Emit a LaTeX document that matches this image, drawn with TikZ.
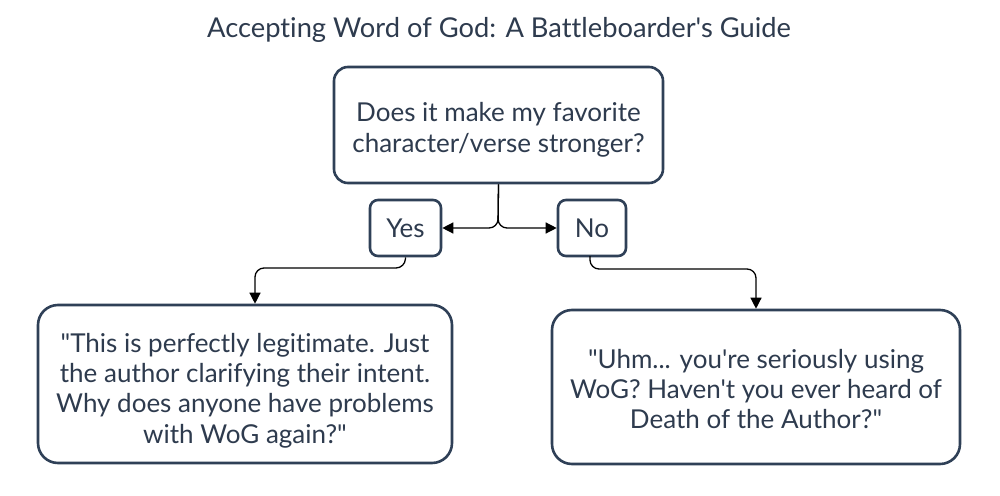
\documentclass[tikz,border=0pt]{standalone}
\usepackage{fontspec}
\setmainfont{Lato}[Ligatures={TeXOff,NoCommon}]
\usetikzlibrary{arrows.meta}
\definecolor{boxc}{HTML}{2F4057}
\definecolor{txtc}{HTML}{2E3B4E}
\newcommand\firstup[1]{\rule{0pt}{#1}}
\tikzset{
  box/.style={draw=boxc, line width=2.6pt, rounded corners=14pt, fill=white, text=txtc, align=center, inner sep=0pt},
  conn/.style={draw=black, line width=1.3pt, rounded corners=9pt, -{Triangle[length=11pt,width=11pt]}},
  bodyfont/.style={font={\fontsize{26}{30.3}\selectfont\lineskiplimit=-20pt}},
}
\begin{document}
\begin{tikzpicture}[x=1pt,y=-1pt]
\useasboundingbox[fill=white] (0,0) rectangle (1000,495);
\node[text=txtc, font=\fontsize{27.3}{30}\selectfont] (title) at (499,30) {Accepting Word of God: A Battleboarder's Guide};
\node[box, bodyfont, minimum width=329pt, minimum height=116pt] (top) at (498.5,125) {\firstup{29pt}Does it make my favorite\\character/verse stronger?};
\node[box, bodyfont, rounded corners=8pt, minimum width=71pt, minimum height=56pt] (yes) at (405.5,228) {Yes};
\node[box, bodyfont, rounded corners=8pt, minimum width=68pt, minimum height=56pt] (no) at (592,228) {No};
\node[box, bodyfont, rounded corners=20pt, minimum width=414pt, minimum height=158pt] (left) at (245,384) {\firstup{32pt}"This is perfectly legitimate. Just\\the author clarifying their intent.\\Why does anyone have problems\\with WoG again?"};
\node[box, bodyfont, rounded corners=20pt, minimum width=408pt, minimum height=154pt] (right) at (756,387) {\firstup{23.5pt}"Uhm... you're seriously using\\WoG? Haven't you ever heard of\\Death of the Author?"};
\draw[conn] (top.south) -- (498,228) -- (yes.east);
\draw[conn] (top.south) -- (498,228) -- (no.west);
\draw[conn] (yes.south) -- (405,268) -| ([xshift=10pt]left.north);
\draw[conn] (590,256) -- (590,269) -| (right.north);
\end{tikzpicture}
\end{document}
